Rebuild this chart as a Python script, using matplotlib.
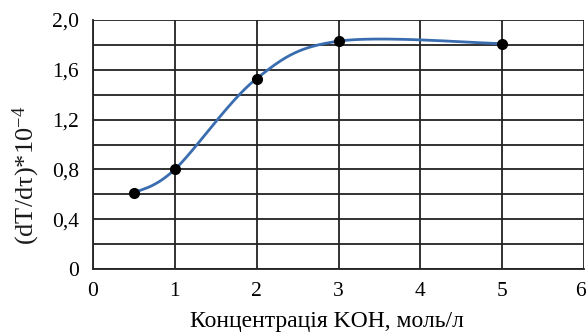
import numpy as np
import matplotlib
matplotlib.use("Agg")
import matplotlib.pyplot as plt
import matplotlib.transforms as mtransforms

conc = [0.5, 1, 2, 3, 5]
rate = [0.61, 0.80, 1.53, 1.83, 1.81]
xticks = [0, 1, 2, 3, 4, 5, 6]
yticks = [0, 0.4, 0.8, 1.2, 1.6, 2.0]
ytick_labels = ["0", "0,4", "0,8", "1,2", "1,6", "2,0"]
xlabel = "Концентрація KOH, моль/л"
ylabel = "(dT/dτ)*10$^{-4}$"

plt.rcParams['font.family'] = ['Liberation Serif', 'DejaVu Serif']
plt.rcParams['mathtext.fontset'] = 'custom'
plt.rcParams['mathtext.rm'] = 'Liberation Serif'
plt.rcParams['mathtext.it'] = 'Liberation Serif:italic'

def excel_smooth(x, y, n=60):
    P = np.column_stack([x, y]).astype(float)
    P = np.vstack([P[0], P, P[-1]])
    out = []
    for i in range(1, len(P) - 2):
        p0, p1, p2, p3 = P[i - 1], P[i], P[i + 1], P[i + 2]
        c1 = p1 + (p2 - p0) / 6.0
        c2 = p2 - (p3 - p1) / 6.0
        t = np.linspace(0, 1, n)[:, None]
        seg = (1 - t) ** 3 * p1 + 3 * (1 - t) ** 2 * t * c1 + 3 * (1 - t) * t ** 2 * c2 + t ** 3 * p2
        out.append(seg)
    s = np.vstack(out)
    return s[:, 0], s[:, 1]

W, H = 587, 334
fig = plt.figure(figsize=(W / 100, H / 100), dpi=100)
ax = fig.add_axes([93 / W, (H - 269) / H, 491 / W, 249 / H])

sx, sy = excel_smooth(conc, rate)
ax.plot(sx, sy, color='#3a6db0', lw=2, zorder=3)
ax.plot(conc, rate, 'o', color='black', ms=7, zorder=4)

ax.set_xlim(0, 6)
ax.set_ylim(0, 2.0)
ax.set_xticks(xticks)
ax.set_xticklabels([str(v) for v in xticks])
ax.set_yticks(yticks)
ax.set_yticklabels(ytick_labels)
ax.set_yticks(np.arange(0, 2.01, 0.2), minor=True)
ax.grid(True, which='both', color='#222222', lw=1.3)
ax.set_axisbelow(True)
ax.tick_params(which='both', length=0, labelsize=15.5, colors='black')
ax.tick_params(axis='y', pad=10)
ax.tick_params(axis='x', pad=9)
for s in ['top', 'right']:
    ax.spines[s].set_visible(False)
for s in ['left', 'bottom']:
    ax.spines[s].set_color('#222222')
    ax.spines[s].set_linewidth(1.3)

last = ax.get_xticklabels()[-1]
last.set_transform(last.get_transform() +
                   mtransforms.ScaledTranslation(-4 / 100, 0, fig.dpi_scale_trans))

fig.text(327 / W, 1 - 322 / H, xlabel, fontsize=17, ha='center', va='center')
fig.text(26 / W, 1 - 175 / H, ylabel, fontsize=19, ha='center', va='center',
         rotation=90, color='#1a1a1a')

fig.savefig("out.png", dpi=100)
